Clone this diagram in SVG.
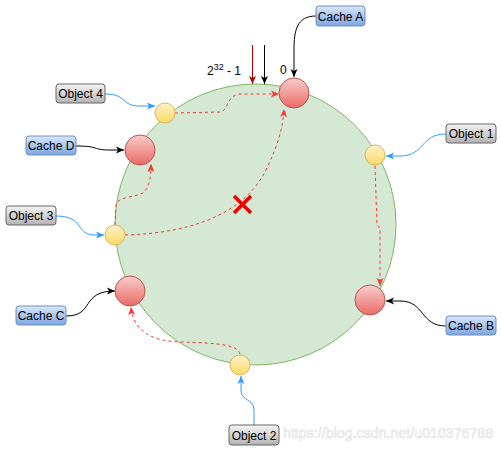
<svg xmlns="http://www.w3.org/2000/svg" width="501" height="451" viewBox="0 0 501 451">
<style>
text{font-family:"Liberation Sans",Arial,sans-serif;font-size:12px;fill:#000}
.lbl{text-anchor:middle}
.cache rect{fill:url(#gBlue);stroke:#6c8ebf;stroke-width:1}
.obj rect{fill:url(#gGray);stroke:#666;stroke-width:1}
.red{fill:url(#gRed);stroke:#b85450;stroke-width:1}
.yel{fill:url(#gYel);stroke:#d6b656;stroke-width:1}
.e{fill:none;stroke-width:1}
.k{stroke:#000;marker-end:url(#mK)}
.b{stroke:#3399ff;marker-end:url(#mB)}
.r{stroke:#ff3333;stroke-dasharray:3 3;marker-end:url(#mR)}
</style>
<defs>
<linearGradient id="gBlue" x1="0" y1="0" x2="0" y2="1"><stop offset="0" stop-color="#dae8fc"/><stop offset="1" stop-color="#7ea6e0"/></linearGradient>
<linearGradient id="gGray" x1="0" y1="0" x2="0" y2="1"><stop offset="0" stop-color="#f5f5f5"/><stop offset="1" stop-color="#b3b3b3"/></linearGradient>
<linearGradient id="gRed" x1="0" y1="0" x2="0" y2="1"><stop offset="0" stop-color="#f8cecc"/><stop offset="1" stop-color="#ea6b66"/></linearGradient>
<linearGradient id="gYel" x1="0" y1="0" x2="0" y2="1"><stop offset="0" stop-color="#fff2cc"/><stop offset="1" stop-color="#ffd966"/></linearGradient>
<marker id="mK" markerUnits="userSpaceOnUse" markerWidth="10" markerHeight="10" refX="9" refY="5" orient="auto"><path d="M1,1.5 L9,5 L1,8.5 L3,5 z" fill="#000"/></marker>
<marker id="mB" markerUnits="userSpaceOnUse" markerWidth="10" markerHeight="10" refX="9" refY="5" orient="auto"><path d="M1,1.5 L9,5 L1,8.5 L3,5 z" fill="#3399ff"/></marker>
<marker id="mR" markerUnits="userSpaceOnUse" markerWidth="10" markerHeight="10" refX="9" refY="5" orient="auto"><path d="M1,1.5 L9,5 L1,8.5 L3,5 z" fill="#ff3333"/></marker>
<marker id="mD" markerUnits="userSpaceOnUse" markerWidth="10" markerHeight="10" refX="9" refY="5" orient="auto"><path d="M1,1.5 L9,5 L1,8.5 L3,5 z" fill="#b20000"/></marker>
</defs>
<rect width="501" height="451" fill="#fff"/>

<g id="ring">
<circle cx="255.5" cy="224.5" r="140.5" fill="#d5e8d4" stroke="#82b366" stroke-width="1"/>
</g>

<g id="connectors">
<path class="e k" d="M316,16 C297,16 294,30 294,50 L294,77"/>
<path class="e b" d="M105,94 C128,94 120,106 140,106 L155,106"/>
<path class="e k" d="M76,146 C100,146 92,150 110,150 L124,150"/>
<path class="e b" d="M56,216 C85,216 75,235 95,235 L104,235"/>
<path class="e k" d="M66,316 C95,316 80,291 115,291"/>
<path class="e b" d="M254,425 L254,410 C254,398 241,402 241,390 L241,376"/>
<path class="e b" d="M446,134 C420,134 425,156 400,156 L386,156"/>
<path class="e k" d="M446,326 C420,326 425,301 400,301 L386,301"/>
<path class="e" stroke="#b20000" marker-end="url(#mD)" d="M252.5,45 L252.5,84"/>
<path class="e k" d="M264.5,45 L264.5,84"/>
<path class="e r" d="M175,113 L220,112 C228,112 226,95 240,94 L279,94"/>
<path class="e r" d="M125,235 C195,233 245,212 266,170 C278,145 283,128 284,109"/>
<path class="e r" d="M115,225 L116,205 C118,195 140,198 145,191 C150,184 151,176 151,164"/>
<path class="e r" d="M375,166 L377,225 L380,228 L380,286"/>
<path class="e r" d="M240,354 C238,345 220,343 180,342 C150,341 133,330 131,307"/>
</g>

<g id="cross"><path d="M234,196 L251,213 M251,196 L234,213" stroke="#ee0000" stroke-width="3.5" fill="none"/></g>

<g id="labels-top">
<text x="207" y="75">2<tspan font-size="9" style="font-size:9px" dy="-5">32</tspan><tspan dy="5"> - 1</tspan></text>
<text x="280" y="74">0</text>
</g>

<g id="cacheA-node"><circle class="red" cx="294" cy="93" r="15"/></g>
<g id="cacheB-node"><circle class="red" cx="370" cy="300" r="15"/></g>
<g id="cacheC-node"><circle class="red" cx="130" cy="291" r="15"/></g>
<g id="cacheD-node"><circle class="red" cx="140" cy="150" r="15"/></g>
<g id="obj1-node"><circle class="yel" cx="375" cy="155" r="10"/></g>
<g id="obj2-node"><circle class="yel" cx="240" cy="365" r="10"/></g>
<g id="obj3-node"><circle class="yel" cx="115" cy="235" r="10"/></g>
<g id="obj4-node"><circle class="yel" cx="165" cy="113" r="10"/></g>

<g id="cacheA" class="cache"><rect x="316" y="6" width="49" height="20" rx="3"/><text class="lbl" x="340.5" y="20.5">Cache A</text></g>
<g id="cacheB" class="cache"><rect x="446" y="316" width="50" height="19" rx="3"/><text class="lbl" x="471" y="330">Cache B</text></g>
<g id="cacheC" class="cache"><rect x="16" y="306" width="50" height="19" rx="3"/><text class="lbl" x="41" y="320">Cache C</text></g>
<g id="cacheD" class="cache"><rect x="26" y="136" width="50" height="19" rx="3"/><text class="lbl" x="51" y="150">Cache D</text></g>
<g id="object1" class="obj"><rect x="446" y="124" width="50" height="19" rx="3"/><text class="lbl" x="471" y="138">Object 1</text></g>
<g id="object2" class="obj"><rect x="229" y="425" width="50" height="20" rx="3"/><text class="lbl" x="254" y="439.5">Object 2</text></g>
<g id="object3" class="obj"><rect x="6" y="206" width="50" height="19" rx="3"/><text class="lbl" x="31" y="220">Object 3</text></g>
<g id="object4" class="obj"><rect x="56" y="84" width="49" height="19" rx="3"/><text class="lbl" x="80.5" y="98">Object 4</text></g>

<g id="watermark"><text x="283" y="438" textLength="210" style="font-size:14px;fill:#ffffff;fill-opacity:0.55;stroke:#c8c8c8;stroke-opacity:0.6;stroke-width:0.6">https://blog.csdn.net/u010376788</text></g>
</svg>
